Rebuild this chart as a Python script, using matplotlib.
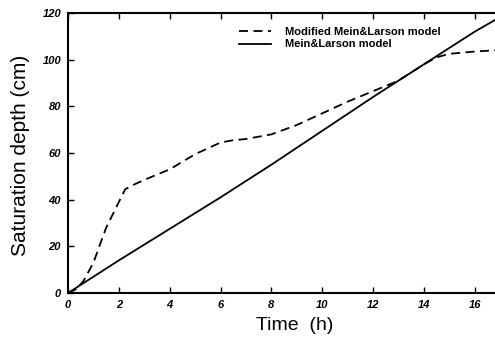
import numpy as np
import matplotlib
matplotlib.use('Agg')
import matplotlib.pyplot as plt

# values
time_mod = [0, 0.3, 0.6, 1.0, 1.5, 2.0, 2.25, 2.6, 3.0, 4.0, 5.0, 6.0, 6.5, 7.0, 8.0,
            9.0, 10.0, 11.0, 12.0, 13.0, 14.0, 14.5, 15.0, 16.0, 16.8]
depth_mod = [0, 1.5, 5, 13, 28, 39, 44.5, 46.5, 48.5, 53, 59.5, 64.5, 65.5, 66, 68,
             72, 77, 82, 86.5, 91, 98, 101, 102.5, 103.5, 104]
time_ml = [0, 2, 4, 6, 8, 10, 12, 14, 16, 16.8]
depth_ml = [0, 14, 27.5, 41, 55, 69.5, 84, 98, 112, 117]

xticks = [0, 2, 4, 6, 8, 10, 12, 14, 16]
yticks = [0, 20, 40, 60, 80, 100, 120]

plt.rcParams['font.family'] = ['Liberation Sans', 'DejaVu Sans']

fig = plt.figure(figsize=(4.95, 3.38), dpi=100)
ax = fig.add_axes([0.1374, 0.133, 0.8626, 0.8285])

ax.plot(time_mod, depth_mod, color='black', linestyle=(0, (5, 3)), linewidth=1.3,
        label='Modified Mein&Larson model')
ax.plot(time_ml, depth_ml, color='black', linestyle='-', linewidth=1.3,
        label='Mein&Larson model')

ax.set_xlim(0, 16.8)
ax.set_ylim(0, 120)
ax.set_xticks(xticks)
ax.set_yticks(yticks)
ax.tick_params(direction='in', top=True, right=False, length=4, width=1, pad=5)
for lab in ax.get_xticklabels() + ax.get_yticklabels():
    lab.set_fontsize(8)
    lab.set_fontweight('bold')
    lab.set_fontstyle('italic')

ax.spines['right'].set_visible(False)
for s in ['left', 'bottom', 'top']:
    ax.spines[s].set_linewidth(1.5)

ax.set_xlabel('Time  (h)', fontsize=14)
ax.xaxis.set_label_coords(0.53, -0.085)
ax.set_ylabel('Saturation depth (cm)', fontsize=15)
ax.yaxis.set_label_coords(-0.09, 0.49)

leg = ax.legend(loc='upper left', bbox_to_anchor=(0.39, 0.965), frameon=False,
                prop={'size': 8, 'weight': 'bold'}, handlelength=2.9,
                handletextpad=1.2, labelspacing=0.2, borderaxespad=0)

fig.savefig('out.png', dpi=100)
